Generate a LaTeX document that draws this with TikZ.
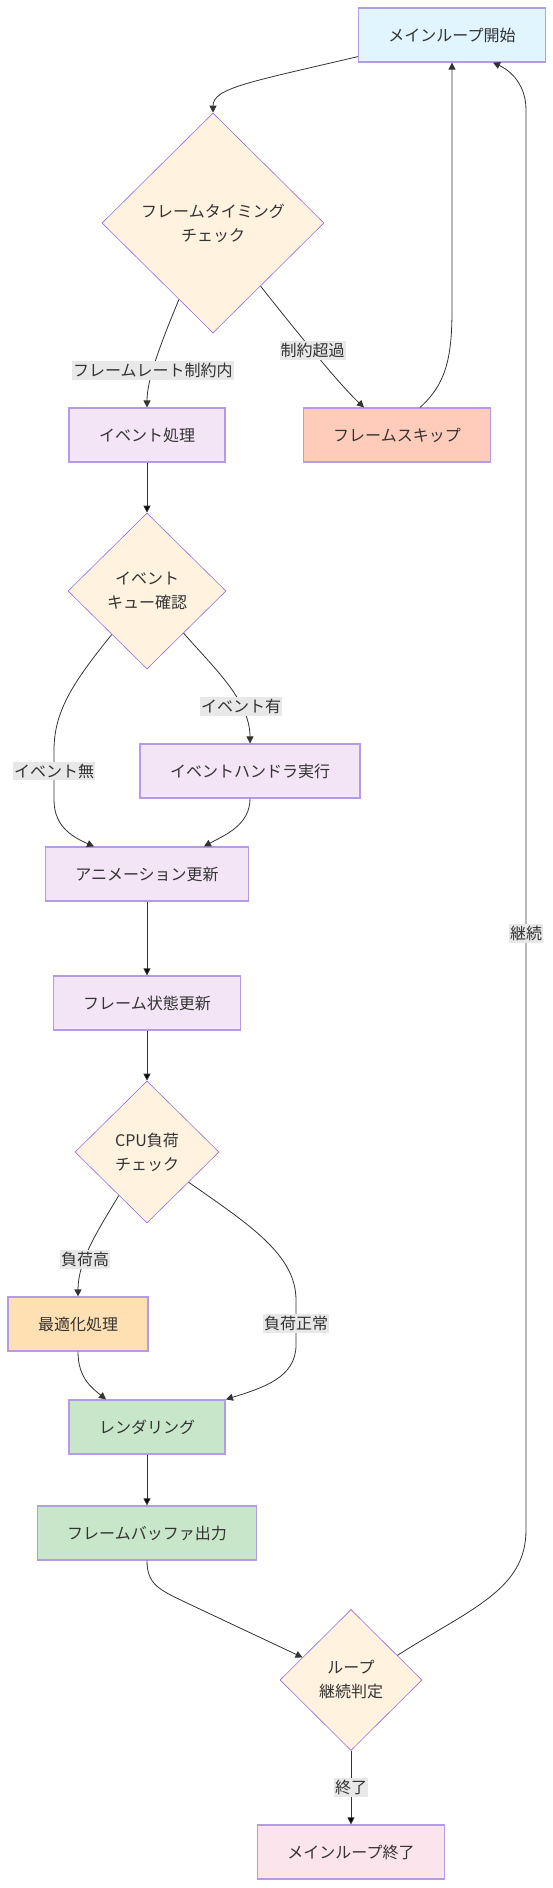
\documentclass[tikz,border=0pt]{standalone}
\usepackage{fontspec}
\setmainfont{Noto Sans CJK JP}
\usepackage{tikz}
\usetikzlibrary{arrows.meta,shapes.geometric,positioning}
\definecolor{txt}{HTML}{333333}
\definecolor{edgec}{HTML}{333333}
\definecolor{bord}{HTML}{9370DB}
\definecolor{lblbg}{HTML}{E8E8E8}
\definecolor{cstart}{HTML}{E1F5FE}
\definecolor{cdec}{HTML}{FFF3E0}
\definecolor{cproc}{HTML}{F3E5F5}
\definecolor{cskip}{HTML}{FFCCBC}
\definecolor{copt}{HTML}{FFE0B2}
\definecolor{crend}{HTML}{C8E6C9}
\definecolor{cend}{HTML}{FCE4EC}

\begin{document}
\begin{tikzpicture}[x=1pt,y=-1pt,
>={Triangle[length=7pt,width=7pt]},
every node/.style={text=txt,font=\fontsize{16}{24}\selectfont},
box/.style={rectangle,draw=bord!70,line width=1.2pt,inner xsep=30pt,minimum height=54pt},
decide/.style={diamond,draw=bord,line width=0.6pt,fill=cdec,inner sep=0pt,align=center},
lbl/.style={fill=lblbg,inner xsep=1pt,inner ysep=2pt,font=\fontsize{16}{16}\selectfont},
flow/.style={->,draw=edgec,line width=0.8pt}]
\useasboundingbox (0,0) rectangle (553,1888);

\node (vstart) at (452,35) [box,fill=cstart] {メインループ開始};
\node (vtime) at (213,223) [decide,minimum width=222pt,minimum height=220pt] {フレームタイミング\\チェック};
\node (vevt) at (147,435) [box,fill=cproc] {イベント処理};
\node (vskip) at (397,435) [box,fill=cskip] {フレームスキップ};
\node (vq) at (147,591) [decide,minimum width=158pt,minimum height=156pt] {イベント\\キュー確認};
\node (vhand) at (250,771) [box,fill=cproc] {イベントハンドラ実行};
\node (vanim) at (147,874) [box,fill=cproc] {アニメーション更新};
\node (vstate) at (147,1003) [box,fill=cproc] {フレーム状態更新};
\node (vcpu) at (147,1152) [decide,minimum width=144pt,minimum height=142pt] {CPU負荷\\チェック};
\node (vopt) at (78,1324) [box,fill=copt] {最適化処理};
\node (vrend) at (147,1427) [box,fill=crend] {レンダリング};
\node (vbuf) at (147,1533) [box,fill=crend] {フレームバッファ出力};
\node (vloop) at (351,1680) [decide,minimum width=142pt,minimum height=141pt] {ループ\\継続判定};
\node (vend) at (351,1852) [box,fill=cend] {メインループ終了};

\draw[flow] ([yshift=6pt]vstart.south west) .. controls (250,82) and (213,88) .. (vtime.north);
\draw[flow] (vtime.246) .. controls (160,345) and (147,380) .. node[lbl,pos=0.6] {フレームレート制約内} (vevt.north);
\draw[flow] (vtime.307) .. controls (300,336) and (340,385) .. node[lbl,pos=0.45] {制約超過} ([xshift=-33pt]vskip.north);
\draw[flow] ([xshift=23pt]vskip.north) .. controls (445,385) and (452,360) .. (452,310) -- (vstart.south);
\draw[flow] (vloop.28) .. controls (470,1609) and (526,1590) .. (526,1530) -- node[lbl,pos=0.42] {継続} (526,110) .. controls (526,80) and (505,68) .. ([xshift=41pt]vstart.south);
\draw[flow] (vevt) edge (vq);
\draw[flow] (vq.311) .. controls (212,666) and (250,700) .. node[lbl,pos=0.7] {イベント有} (vhand.north);
\draw[flow] (vq.231) .. controls (75,680) and (54,710) .. (54,750) -- node[lbl,pos=0.42] {イベント無} (54,800) .. controls (54,828) and (75,838) .. ([xshift=-53pt]vanim.north);
\draw[flow] (vhand.south) .. controls (250,825) and (225,835) .. ([xshift=57pt]vanim.north);
\draw[flow] (vanim) edge (vstate);
\draw[flow] (vstate) edge (vcpu);
\draw[flow] (vcpu.237) .. controls (100,1227) and (78,1260) .. node[lbl,pos=0.65] {負荷高} (vopt.north);
\draw[flow] (vcpu.324) .. controls (250,1225) and (296,1255) .. (296,1300) -- node[lbl,pos=0.53] {負荷正常} (296,1345) .. controls (296,1378) and (262,1388) .. ([xshift=79pt]vrend.north);
\draw[flow] (vopt.south) .. controls (78,1378) and (92,1388) .. ([xshift=-41pt]vrend.north);
\draw[flow] (vrend) edge (vbuf);
\draw[flow] (vbuf.south) .. controls (147,1585) and (160,1590) .. (187,1603) -- (vloop.155);
\draw[flow] (vloop) edge node[lbl] {終了} (vend);

\end{tikzpicture}
\end{document}
